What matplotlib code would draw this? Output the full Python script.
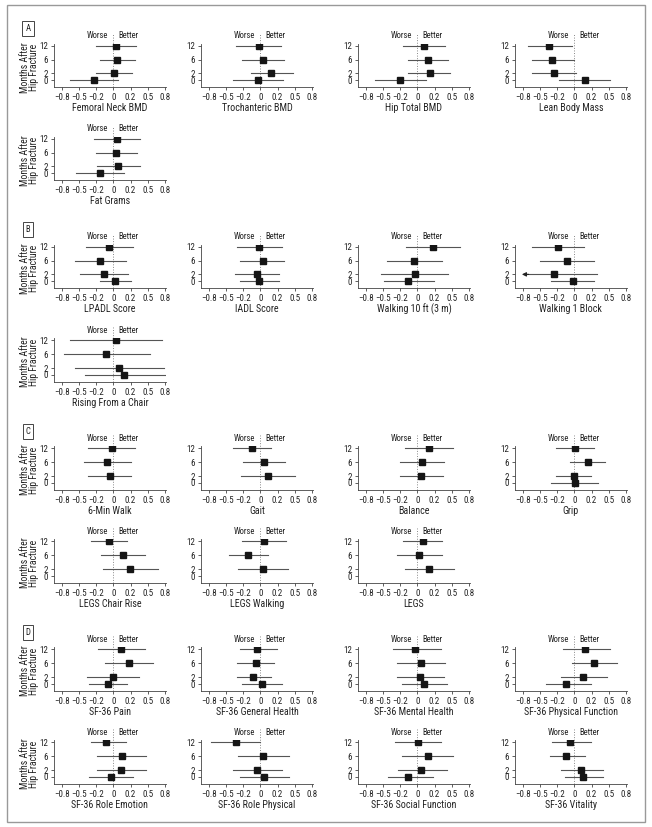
import matplotlib
matplotlib.use('Agg')
import matplotlib.pyplot as plt
import matplotlib.transforms as mtransforms
from matplotlib import font_manager
from matplotlib.patches import Rectangle

# look for a narrow / condensed sans (the original uses a condensed face)
def find_narrow():
    prefs = ['liberation sans narrow', 'roboto condensed', 'open sans', 'noto sans', 'roboto', 'inter', 'dejavu sans']
    found = []
    for f in font_manager.fontManager.ttflist:
        n = f.name.lower()
        st = f.stretch
        cond = 'narrow' in n or 'condensed' in n
        if isinstance(st, str):
            cond = cond or ('condensed' in st.lower() and 'semi' not in st.lower())
        elif isinstance(st, (int, float)):
            cond = cond or st <= 300
        if not cond or f.style != 'normal':
            continue
        w = f.weight if isinstance(f.weight, int) else {'normal': 400, 'regular': 400, 'book': 400}.get(str(f.weight).lower(), 700)
        if w != 400:
            continue
        rank = next((i for i, p in enumerate(prefs) if n.startswith(p)), len(prefs))
        found.append((rank, f))
    if not found:
        return None
    found.sort(key=lambda t: t[0])
    return found[0][1]

narrow = find_narrow()
if narrow is not None:
    plt.rcParams['font.family'] = [narrow.name, 'DejaVu Sans']
    plt.rcParams['font.stretch'] = narrow.stretch
    fs_tick, fs_lab, fs_wb, fs_months = 6.5, 7.2, 6.2, 7
else:
    plt.rcParams['font.family'] = ['Liberation Sans', 'DejaVu Sans']
    fs_tick, fs_lab, fs_wb, fs_months = 5.6, 6.5, 5.5, 6

sections = ['A', 'B', 'C', 'D']
month_labels = ['12', '6', '2', '0']
xtick_labels = ['\u22120.8', '\u22120.5', '\u22120.2', '0', '0.2', '0.5', '0.8']

measures = ['Femoral Neck BMD', 'Trochanteric BMD', 'Hip Total BMD', 'Lean Body Mass', 'Fat Grams',
            'LPADL Score', 'IADL Score', 'Walking 10 ft (3 m)', 'Walking 1 Block', 'Rising From a Chair',
            '6-Min Walk', 'Gait', 'Balance', 'Grip', 'LEGS Chair Rise', 'LEGS Walking', 'LEGS',
            'SF-36 Pain', 'SF-36 General Health', 'SF-36 Mental Health', 'SF-36 Physical Function',
            'SF-36 Role Emotion', 'SF-36 Role Physical', 'SF-36 Social Function', 'SF-36 Vitality']

# effect sizes at 12, 6, 2, 0 months
estimates = [
    [0.035, 0.055, 0.01, -0.28],
    [-0.025, 0.04, 0.16, -0.035],
    [0.10, 0.15, 0.18, -0.25],
    [-0.37, -0.32, -0.29, 0.15],
    [0.05, 0.04, 0.07, -0.20],
    [-0.065, -0.195, -0.14, 0.025],
    [-0.02, 0.035, -0.055, -0.02],
    [0.22, -0.045, -0.03, -0.13],
    [-0.24, -0.11, -0.30, -0.02],
    [0.04, -0.105, 0.075, 0.16],
    [-0.025, -0.085, -0.045, None],
    [-0.12, 0.05, 0.11, None],
    [0.17, 0.07, 0.055, None],
    [0.015, 0.195, -0.01, 0.005],
    [-0.065, 0.135, 0.245, None],
    [0.05, -0.18, 0.04, None],
    [0.08, 0.03, 0.17, None],
    [0.105, 0.22, -0.01, -0.08],
    [-0.05, -0.07, -0.11, 0.02],
    [-0.03, 0.06, 0.04, 0.09],
    [0.16, 0.28, 0.13, -0.12],
    [-0.10, 0.13, 0.11, -0.04],
    [-0.35, 0.04, -0.045, 0.06],
    [0.015, 0.15, 0.06, -0.13],
    [-0.06, -0.12, 0.10, 0.13],
]
ci_low = [
    [-0.25, -0.20, -0.25, -0.63],
    [-0.35, -0.27, -0.14, -0.39],
    [-0.21, -0.14, -0.13, -0.61],
    [-0.67, -0.62, -0.61, -0.22],
    [-0.28, -0.25, -0.24, -0.54],
    [-0.40, -0.55, -0.48, -0.20],
    [-0.34, -0.29, -0.37, -0.29],
    [-0.16, -0.44, -0.53, -0.49],
    [-0.62, -0.50, -0.72, -0.34],
    [-0.63, -0.71, -0.56, -0.41],
    [-0.37, -0.42, -0.36, None],
    [-0.39, -0.25, -0.28, None],
    [-0.18, -0.25, -0.25, None],
    [-0.26, -0.07, -0.26, -0.34],
    [-0.32, -0.18, -0.145, None],
    [-0.27, -0.45, -0.32, None],
    [-0.21, -0.30, -0.18, None],
    [-0.22, -0.115, -0.38, -0.355],
    [-0.30, -0.34, -0.34, -0.27],
    [-0.35, -0.30, -0.30, -0.22],
    [-0.16, -0.03, -0.20, -0.41],
    [-0.32, -0.23, -0.23, -0.35],
    [-0.72, -0.32, -0.40, -0.29],
    [-0.32, -0.22, -0.28, -0.43],
    [-0.32, -0.35, -0.20, -0.13],
]
ci_high = [
    [0.33, 0.31, 0.27, 0.07],
    [0.30, 0.34, 0.47, 0.33],
    [0.40, 0.44, 0.48, 0.12],
    [-0.04, -0.01, 0.02, 0.52],
    [0.38, 0.34, 0.39, 0.15],
    [0.28, 0.18, 0.21, 0.25],
    [0.31, 0.34, 0.27, 0.27],
    [0.62, 0.36, 0.45, 0.24],
    [0.14, 0.28, 0.33, 0.29],
    [0.71, 0.53, 0.74, 0.75],
    [0.32, 0.26, 0.26, None],
    [0.15, 0.36, 0.50, None],
    [0.52, 0.39, 0.37, None],
    [0.28, 0.45, 0.24, 0.35],
    [0.195, 0.455, 0.645, None],
    [0.37, 0.11, 0.40, None],
    [0.36, 0.36, 0.53, None],
    [0.455, 0.57, 0.37, 0.205],
    [0.24, 0.20, 0.155, 0.31],
    [0.34, 0.40, 0.38, 0.43],
    [0.51, 0.62, 0.47, 0.24],
    [0.18, 0.48, 0.48, 0.29],
    [0.0, 0.41, 0.32, 0.41],
    [0.34, 0.51, 0.43, 0.22],
    [0.24, 0.15, 0.41, 0.41],
]
# lower limit runs off the axis (drawn as arrow)
truncated_low = [('Walking 1 Block', '2')]

# layout (pixels, top-left origin)
W, H = 652, 827
fig = plt.figure(figsize=(W / 100, H / 100), dpi=100)

y_pos = [10, 6, 2, 0]
xlim = (-0.86, 0.76)
ylim = (-2.0, 10.6)
px_x = 69.0
px_y = 3.46
col_left = [54, 201, 358, 515]
row_zero = [80.3, 173.3, 281.3, 375, 483, 576, 684, 777]
row_count = [4, 1, 4, 1, 4, 3, 4, 4]
row_section = [0, None, 1, None, 2, None, 3, None]

ax_w = (xlim[1] - xlim[0]) * px_x
ax_h = (ylim[1] - ylim[0]) * px_y

k = 0
for r, y0 in enumerate(row_zero):
    bottom = y0 - ylim[0] * px_y
    for c in range(row_count[r]):
        ax = fig.add_axes([col_left[c] / W, 1 - bottom / H, ax_w / W, ax_h / H])
        ax.set_xlim(*xlim)
        ax.set_ylim(*ylim)
        for s in ['top', 'right']:
            ax.spines[s].set_visible(False)
        for s in ['left', 'bottom']:
            ax.spines[s].set_linewidth(0.6)
            ax.spines[s].set_color('#444444')
        ax.set_xticks([-0.75, -0.5, -0.25, 0, 0.25, 0.5, 0.75])
        ax.set_xticklabels(xtick_labels)
        ax.set_yticks(y_pos)
        ax.set_yticklabels(month_labels)
        ax.tick_params(length=2.5, width=0.6, labelsize=fs_tick, pad=2,
                       colors='#444444', labelcolor='#222222')

        ax.plot([0, 0], [ylim[0], 13.8], ls=':', color='#888888', lw=0.7, clip_on=False, zorder=1)
        ax.text(-0.07, 12.9, 'Worse', ha='right', va='center', fontsize=fs_wb, color='#222222')
        ax.text(0.07, 12.9, 'Better', ha='left', va='center', fontsize=fs_wb, color='#222222')

        name = measures[k]
        for i, m in enumerate(month_labels):
            e = estimates[k][i]
            if e is None:
                continue
            lo, hi = ci_low[k][i], ci_high[k][i]
            ax.plot([lo, hi], [y_pos[i], y_pos[i]], color='#555555', lw=0.8, zorder=2)
            if (name, m) in truncated_low:
                ax.annotate('', xy=(lo - 0.04, y_pos[i]), xytext=(lo + 0.06, y_pos[i]),
                            arrowprops=dict(arrowstyle='-|>', color='#222222', lw=0.8,
                                            mutation_scale=6, shrinkA=0, shrinkB=0))
            ax.plot(e, y_pos[i], 's', color='#151515', ms=4.2, zorder=3)

        tr = mtransforms.blended_transform_factory(ax.transAxes, ax.transData)
        ax.text(0.5, -8.1, name, transform=tr, ha='center', va='center',
                fontsize=fs_lab, color='#222222', clip_on=False)
        k += 1

    # y-axis caption on the first column
    fig.text(29.5 / W, 1 - (y0 - 13) / H, 'Months After\nHip Fracture', rotation=90,
             ha='center', va='center', fontsize=fs_months, linespacing=0.95, color='#222222')
    if row_section[r] is not None:
        fig.text(28 / W, 1 - (y0 - 51.5) / H, sections[row_section[r]], ha='center', va='center',
                 fontsize=fs_wb, color='#222222',
                 bbox=dict(boxstyle='square,pad=0.35', fc='white', ec='#444444', lw=0.7))

fig.patches.append(Rectangle((7 / W, 1 - 822 / H), 638 / W, 817 / H, transform=fig.transFigure,
                             fill=False, ec='#999999', lw=1.0))

fig.savefig('out.png', dpi=100)
